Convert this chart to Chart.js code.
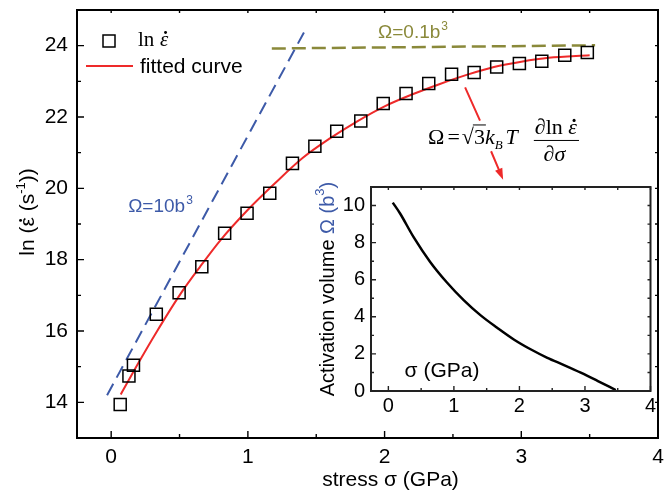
<!DOCTYPE html>
<html>
<head>
<meta charset="utf-8">
<script src="https://cdn.jsdelivr.net/npm/chart.js@4.4.1/dist/chart.umd.min.js"></script>
<style>
  html, body { margin: 0; padding: 0; background: #fff; }
  #wrap { position: relative; width: 671px; height: 492px; }
  #main { position: absolute; left: 0; top: 0; }
  #inset { position: absolute; left: 300px; top: 180px; }
</style>
</head>
<body>
<div id="wrap">
  <canvas id="main" width="671" height="492"></canvas>
  <canvas id="inset" width="360" height="240"></canvas>
</div>
<script>
// measured points: ln(strain rate) vs stress (GPa)
const stress = [0.066, 0.13, 0.163, 0.33, 0.497, 0.663, 0.83, 0.994, 1.16, 1.326, 1.49, 1.65,
  1.826, 1.99, 2.157, 2.323, 2.49, 2.655, 2.82, 2.986, 3.15, 3.318, 3.483];
const lnRate = [13.94, 14.74, 15.04, 16.47, 17.07, 17.80, 18.74, 19.30, 19.86, 20.70, 21.18, 21.60,
  21.89, 22.38, 22.66, 22.94, 23.20, 23.25, 23.40, 23.50, 23.56, 23.73, 23.81];

// red fitted curve
const fitStress = [0.07, 0.2, 0.33, 0.5, 0.65, 0.8, 1.0, 1.2, 1.4, 1.6, 1.8, 2.0, 2.2, 2.4, 2.6, 2.8, 3.0, 3.2, 3.5];
const fitLnRate = [14.22, 15.11, 15.96, 17.0, 17.8, 18.55, 19.4, 20.15, 20.85, 21.4, 21.88, 22.3, 22.63, 22.92, 23.18, 23.4, 23.55, 23.66, 23.73];

// dashed guide lines
const omega10X = [-0.03, 1.41];
const omega10Y = [14.2, 24.37];
const omega01X = [1.175, 3.54];
const omega01Y = [23.92, 24.01];

// inset: activation volume (b^3) vs stress
const insetStress = [0.067, 0.179, 0.383, 0.638, 0.894, 1.149, 1.404, 1.66, 1.914, 2.17, 2.426, 2.68, 2.936, 3.19, 3.47];
const insetVolume = [10.16, 9.57, 8.31, 6.96, 5.85, 4.90, 4.09, 3.41, 2.78, 2.25, 1.79, 1.40, 0.99, 0.55, 0.05];

const xTicks = [0, 1, 2, 3, 4];
const yTicks = [14, 16, 18, 20, 22, 24];
const insetXTicks = [0, 1, 2, 3, 4];
const insetYTicks = [0, 2, 4, 6, 8, 10];

const RED = "#ee2a2a";
const BLUE = "#3d5aa8";
const OLIVE = "#8a893a";
const SANS = "'Liberation Sans', Arial, sans-serif";
const SERIF = "'Liberation Serif', 'Times New Roman', serif";

const pts = (xs, ys) => xs.map((x, i) => ({ x: x, y: ys[i] }));
const half = arr => arr.slice(0, -1).map((v, i) => (v + arr[i + 1]) / 2);

// box round the plot area with ticks pointing inwards
function drawFrame(chart, xt, yt, o) {
  const { ctx, chartArea: a, scales: { x, y } } = chart;
  ctx.save();
  ctx.strokeStyle = o.color;
  ctx.lineWidth = o.width;
  ctx.strokeRect(a.left, a.top, a.right - a.left, a.bottom - a.top);
  ctx.lineWidth = 1.4;
  ctx.beginPath();
  xt.forEach(v => {
    const p = x.getPixelForValue(v);
    ctx.moveTo(p, a.bottom); ctx.lineTo(p, a.bottom - o.major);
    ctx.moveTo(p, a.top); ctx.lineTo(p, a.top + o.small);
  });
  half(xt).forEach(v => {
    const p = x.getPixelForValue(v);
    ctx.moveTo(p, a.bottom); ctx.lineTo(p, a.bottom - o.minor);
    ctx.moveTo(p, a.top); ctx.lineTo(p, a.top + o.small);
  });
  yt.forEach(v => {
    const p = y.getPixelForValue(v);
    ctx.moveTo(a.left, p); ctx.lineTo(a.left + o.major, p);
    ctx.moveTo(a.right, p); ctx.lineTo(a.right - o.small, p);
  });
  half(yt).forEach(v => {
    const p = y.getPixelForValue(v);
    ctx.moveTo(a.left, p); ctx.lineTo(a.left + o.minor, p);
    ctx.moveTo(a.right, p); ctx.lineTo(a.right - o.small, p);
  });
  ctx.stroke();
  ctx.restore();
}

// epsilon with a dot on top (combining dot does not sit right in these fonts)
function epsDot(ctx, font, size, px, py) {
  ctx.font = font;
  ctx.fillText("ε", px, py);
  const w = ctx.measureText("ε").width;
  ctx.beginPath();
  ctx.arc(px + w * 0.55 + 1, py - size * 0.64, size * 0.07, 0, 2 * Math.PI);
  ctx.fill();
  return w;
}

function labelSup(ctx, base, sup, px, py, color, size) {
  ctx.fillStyle = color;
  ctx.font = size + "px " + SANS;
  ctx.fillText(base, px, py);
  const w = ctx.measureText(base).width;
  ctx.font = Math.round(size * 0.62) + "px " + SANS;
  ctx.fillText(sup, px + w + 1, py - size * 0.42);
}

// no extra room for half tick labels, the layout padding decides the plot box
const noPad = s => { s.paddingTop = 0; s.paddingBottom = 0; s.paddingLeft = 0; s.paddingRight = 0; };

const mainDecor = {
  id: "mainDecor",
  afterDraw(chart) {
    const { ctx, chartArea: a, scales: { x, y } } = chart;
    drawFrame(chart, xTicks, yTicks, { color: "#000", width: 2, major: 7, minor: 4, small: 3 });

    ctx.save();
    ctx.textAlign = "left";
    ctx.textBaseline = "alphabetic";

    // legend
    ctx.strokeStyle = "#000";
    ctx.lineWidth = 1.5;
    ctx.strokeRect(a.left + 26, a.top + 25, 12, 12);
    ctx.fillStyle = "#000";
    ctx.font = "21px " + SERIF;
    ctx.fillText("ln", a.left + 61, a.top + 36);
    epsDot(ctx, "italic 21px " + SERIF, 21, a.left + 83, a.top + 36);
    ctx.strokeStyle = RED;
    ctx.lineWidth = 2;
    ctx.beginPath();
    ctx.moveTo(a.left + 9, a.top + 56);
    ctx.lineTo(a.left + 56, a.top + 56);
    ctx.stroke();
    ctx.fillStyle = "#000";
    ctx.font = "21px " + SANS;
    ctx.textBaseline = "middle";
    ctx.fillText("fitted curve", a.left + 63, a.top + 57);

    // line labels
    ctx.textBaseline = "alphabetic";
    labelSup(ctx, "Ω=10b", "3", x.getPixelForValue(0.124), y.getPixelForValue(19.33), BLUE, 19);
    labelSup(ctx, "Ω=0.1b", "3", x.getPixelForValue(1.952), y.getPixelForValue(24.22), OLIVE, 19);

    // formula
    let cx = x.getPixelForValue(2.318);
    const fy = y.getPixelForValue(21.23);
    ctx.fillStyle = "#000";
    const put = (txt, font, dy) => {
      ctx.font = font;
      ctx.fillText(txt, cx, fy + (dy || 0));
      cx += ctx.measureText(txt).width;
    };
    const R = "22px " + SERIF, I = "italic 22px " + SERIF;
    put("Ω", R);
    cx += 3;
    put("=", R);
    cx += 2;
    put("√", R);
    const barStart = cx - 1;
    put("3", R);
    ctx.strokeStyle = "#000";
    ctx.lineWidth = 1;
    ctx.beginPath();
    ctx.moveTo(barStart, fy - 19.5);
    ctx.lineTo(cx + 1, fy - 19.5);
    ctx.stroke();
    put("k", I);
    put("B", "italic 13px " + SERIF, 5);
    cx += 3;
    put("T", I);
    const fl = cx + 16;
    ctx.font = I; const w1 = ctx.measureText("∂").width;
    ctx.font = R; const w2 = ctx.measureText("ln ").width;
    ctx.font = I; const w3 = ctx.measureText("ε").width;
    const fw = w1 + w2 + w3 + 3;
    cx = fl + 1;
    put("∂", I, -10);
    put("ln ", R, -10);
    cx += epsDot(ctx, I, 22, cx, fy - 10);
    ctx.beginPath();
    ctx.moveTo(fl, fy - 4);
    ctx.lineTo(fl + fw, fy - 4);
    ctx.stroke();
    ctx.font = I;
    const denW = ctx.measureText("∂σ").width;
    cx = fl + (fw - denW) / 2 - 2;
    put("∂σ", I, 17);

    // red arrow from curve to inset
    const sx1 = x.getPixelForValue(2.589), sy1 = y.getPixelForValue(22.83);
    const ex1 = x.getPixelForValue(2.698), ey1 = y.getPixelForValue(21.90);
    const sx2 = x.getPixelForValue(2.779), sy2 = y.getPixelForValue(21.04);
    const tx = x.getPixelForValue(2.867), ty = y.getPixelForValue(20.24);
    const ang = Math.atan2(ty - sy2, tx - sx2);
    ctx.strokeStyle = RED;
    ctx.fillStyle = RED;
    ctx.lineWidth = 2;
    ctx.beginPath();
    ctx.moveTo(sx1, sy1); ctx.lineTo(ex1, ey1);
    ctx.moveTo(sx2, sy2); ctx.lineTo(tx - 8 * Math.cos(ang), ty - 8 * Math.sin(ang));
    ctx.stroke();
    ctx.beginPath();
    ctx.moveTo(tx, ty);
    ctx.lineTo(tx - 12 * Math.cos(ang - 0.33), ty - 12 * Math.sin(ang - 0.33));
    ctx.lineTo(tx - 12 * Math.cos(ang + 0.33), ty - 12 * Math.sin(ang + 0.33));
    ctx.closePath();
    ctx.fill();

    // axis titles
    ctx.fillStyle = "#000";
    ctx.font = "21px " + SANS;
    ctx.textAlign = "center";
    ctx.textBaseline = "middle";
    ctx.fillText("stress σ (GPa)", (a.left + a.right) / 2 + 23, 480);

    ctx.translate(27, (a.top + a.bottom) / 2 - 12);
    ctx.rotate(-Math.PI / 2);
    ctx.textAlign = "left";
    ctx.textBaseline = "alphabetic";
    const big = "21px " + SANS, small = "13px " + SANS;
    const parts = [["ln (", big], ["ε", big], [" (s", big], ["-1", small], ["))", big]];
    let total = 0;
    parts.forEach(p => { ctx.font = p[1]; total += ctx.measureText(p[0]).width; });
    let px = -total / 2;
    const base = 7;
    parts.forEach(p => {
      ctx.font = p[1];
      if (p[0] === "ε") {
        px += epsDot(ctx, big, 21, px, base);
      } else {
        ctx.fillText(p[0], px, p[1] === small ? base - 9 : base);
        px += ctx.measureText(p[0]).width;
      }
    });
    ctx.restore();
  }
};

new Chart(document.getElementById("main"), {
  type: "scatter",
  data: {
    datasets: [{
      label: "ln ε̇",
      data: pts(stress, lnRate),
      pointStyle: "rect",
      pointRadius: 8.5,
      borderColor: "#000",
      borderWidth: 1.5,
      backgroundColor: "rgba(0,0,0,0)",
      order: 0
    }, {
      label: "fitted curve",
      type: "line",
      showLine: true,
      data: pts(fitStress, fitLnRate),
      borderColor: RED,
      borderWidth: 2,
      pointRadius: 0,
      cubicInterpolationMode: "monotone",
      fill: false,
      order: 1
    }, {
      label: "Ω=10b³",
      type: "line",
      showLine: true,
      data: pts(omega10X, omega10Y),
      borderColor: BLUE,
      borderWidth: 2,
      borderDash: [13, 7],
      pointRadius: 0,
      fill: false,
      order: 2
    }, {
      label: "Ω=0.1b³",
      type: "line",
      showLine: true,
      data: pts(omega01X, omega01Y),
      borderColor: OLIVE,
      borderWidth: 2.5,
      borderDash: [14, 6],
      pointRadius: 0,
      fill: false,
      order: 3
    }]
  },
  options: {
    responsive: false,
    animation: false,
    events: [],
    layout: { padding: { left: 0, top: 10, right: 13, bottom: 0 } },
    plugins: { legend: { display: false }, tooltip: { enabled: false } },
    scales: {
      x: {
        type: "linear",
        min: -0.25,
        max: 4,
        grid: { display: false, drawTicks: false },
        border: { display: false },
        afterBuildTicks: s => { s.ticks = xTicks.map(v => ({ value: v })); },
        afterFit: s => { s.height = 54; noPad(s); },
        ticks: { padding: 7, color: "#000", font: { family: SANS, size: 21 } }
      },
      y: {
        type: "linear",
        min: 13,
        max: 25,
        grid: { display: false, drawTicks: false },
        border: { display: false },
        afterBuildTicks: s => { s.ticks = yTicks.map(v => ({ value: v })); },
        afterFit: s => { s.width = 77; noPad(s); },
        ticks: { padding: 9, color: "#000", font: { family: SANS, size: 21 } }
      }
    }
  },
  plugins: [mainDecor]
});

const insetDecor = {
  id: "insetDecor",
  beforeDraw(chart) {
    const { ctx, chartArea: a } = chart;
    ctx.save();
    ctx.fillStyle = "#fff";
    ctx.fillRect(a.left, a.top, a.right - a.left, a.bottom - a.top);
    ctx.restore();
  },
  afterDraw(chart) {
    const { ctx, chartArea: a } = chart;
    drawFrame(chart, insetXTicks, insetYTicks, { color: "#222", width: 2, major: 5, minor: 3, small: 3 });
    ctx.save();
    // y title, with the symbol part in blue
    ctx.translate(28, (a.top + a.bottom) / 2);
    ctx.rotate(-Math.PI / 2);
    ctx.textBaseline = "middle";
    ctx.textAlign = "left";
    const big = "20px " + SANS, small = "13px " + SANS;
    const parts = [["Activation volume ", "#000", big, 0], ["Ω (b", BLUE, big, 0], ["3", BLUE, small, -8], [")", BLUE, big, 0]];
    let total = 0;
    parts.forEach(p => { ctx.font = p[2]; total += ctx.measureText(p[0]).width; });
    let px = -total / 2;
    parts.forEach(p => {
      ctx.font = p[2];
      ctx.fillStyle = p[1];
      ctx.fillText(p[0], px, p[3]);
      px += ctx.measureText(p[0]).width;
    });
    ctx.restore();

    ctx.save();
    ctx.fillStyle = "#000";
    ctx.font = "21px " + SANS;
    ctx.textAlign = "center";
    ctx.textBaseline = "middle";
    ctx.fillText("σ (GPa)", a.left + 71, a.bottom - 20);
    ctx.restore();
  }
};

new Chart(document.getElementById("inset"), {
  type: "line",
  data: {
    datasets: [{
      label: "activation volume",
      data: pts(insetStress, insetVolume),
      borderColor: "#000",
      borderWidth: 2.5,
      pointRadius: 0,
      cubicInterpolationMode: "monotone",
      fill: false
    }]
  },
  options: {
    responsive: false,
    animation: false,
    events: [],
    layout: { padding: { left: 0, top: 7, right: 9.5, bottom: 0 } },
    plugins: { legend: { display: false }, tooltip: { enabled: false } },
    scales: {
      x: {
        type: "linear",
        min: -0.265,
        max: 4,
        grid: { display: false, drawTicks: false },
        border: { display: false },
        afterBuildTicks: s => { s.ticks = insetXTicks.map(v => ({ value: v })); },
        afterFit: s => { s.height = 29; noPad(s); },
        ticks: { padding: 3, color: "#000", font: { family: SANS, size: 20 } }
      },
      y: {
        type: "linear",
        min: 0,
        max: 11,
        grid: { display: false, drawTicks: false },
        border: { display: false },
        afterBuildTicks: s => { s.ticks = insetYTicks.map(v => ({ value: v })); },
        afterFit: s => { s.width = 71; noPad(s); },
        ticks: { padding: 6, color: "#000", font: { family: SANS, size: 20 } }
      }
    }
  },
  plugins: [insetDecor]
});
</script>
</body>
</html>
